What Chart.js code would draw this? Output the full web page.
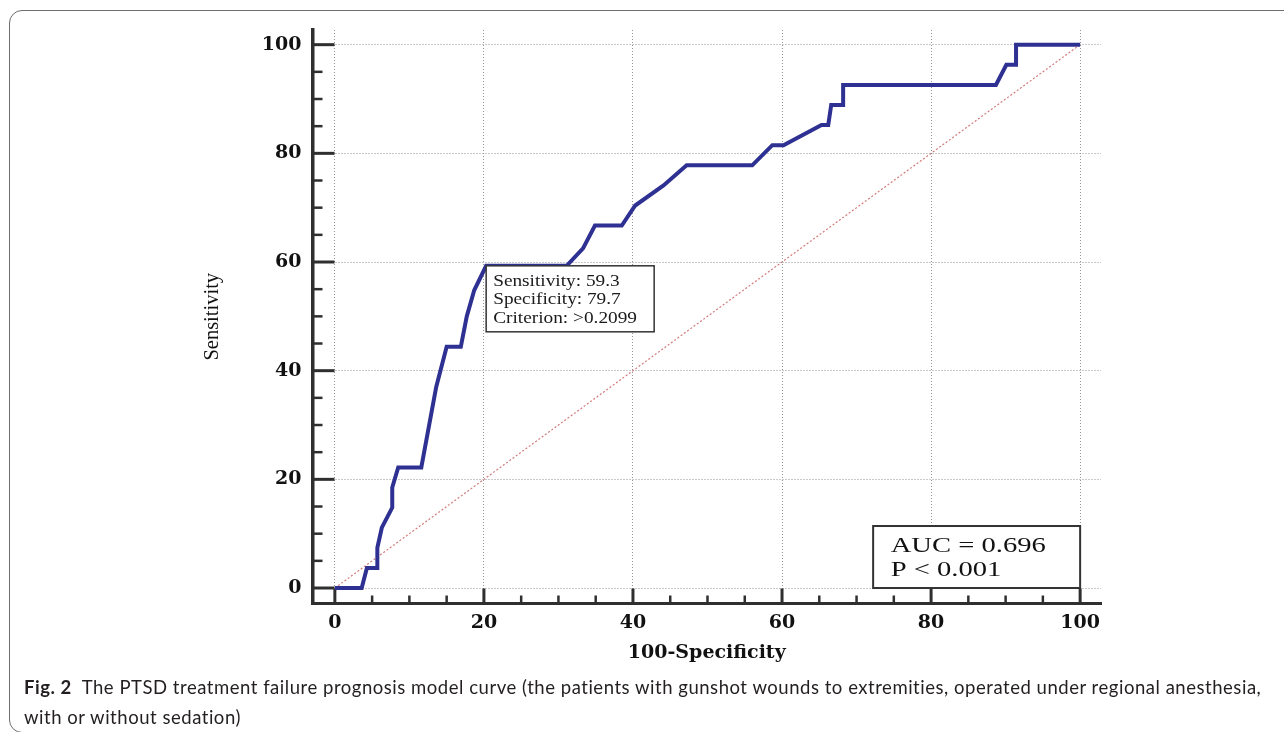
<!DOCTYPE html>
<html>
<head>
<meta charset="utf-8">
<script src="https://cdn.jsdelivr.net/npm/chart.js@4.4.1/dist/chart.umd.min.js"></script>
<style>
html,body{margin:0;padding:0;background:#fff;width:1284px;height:732px;overflow:hidden;}
#frame{position:absolute;left:9px;top:10px;width:1320px;height:723px;border:1.5px solid #6e6e6e;border-radius:13px;box-sizing:border-box;}
#chart{position:absolute;left:0;top:0;}
#cap{position:absolute;left:24px;top:672px;font-family:Lato,"Open Sans",sans-serif;font-size:18.5px;line-height:30px;color:#231f20;white-space:nowrap;}
#cap b{font-weight:700;}
</style>
</head>
<body>
<div id="frame"></div>
<canvas id="chart" width="1284" height="732"></canvas>
<div id="cap"><span id="l1"><b>Fig. 2</b>&nbsp;&nbsp;The PTSD treatment failure prognosis model curve (the patients with gunshot wounds to extremities, operated under regional anesthesia,</span><br><span id="l2">with or without sedation)</span></div>
<script>
// ---- data ----
const fprX  = [0, 3.6, 4.3, 5.7, 5.7, 6.3, 7.7, 7.7, 8.5, 11.6, 13.6, 15.0, 16.9, 17.7, 18.7, 20.3, 31.1, 33.3, 34.9, 38.5, 40.3, 44.1, 47.2, 56.0, 58.7, 60.2, 65.3, 66.2, 66.6, 68.2, 68.2, 88.7, 90.1, 91.4, 91.4, 100];
const sensY = [0, 0, 3.7, 3.7, 7.4, 11.1, 14.8, 18.5, 22.2, 22.2, 37.0, 44.4, 44.4, 50.0, 54.8, 59.3, 59.3, 62.5, 66.7, 66.7, 70.4, 74.1, 77.8, 77.8, 81.5, 81.5, 85.2, 85.2, 88.9, 88.9, 92.6, 92.6, 96.3, 96.3, 100, 100];
const refX = [0, 100];
const refY = [0, 100];
const xTickValues = [0, 20, 40, 60, 80, 100];
const yTickValues = [0, 20, 40, 60, 80, 100];
const cutoffX = 20.3;
const cutoffY = 59.3;
const cutoffLines = ['Sensitivity: 59.3', 'Specificity: 79.7', 'Criterion: >0.2099'];
const aucLines = ['AUC = 0.696', 'P < 0.001'];
const xTitle = '100-Specificity';
const yTitle = 'Sensitivity';

const curvePts = fprX.map((x, i) => ({x: x, y: sensY[i]}));
const refPts = refX.map((x, i) => ({x: x, y: refY[i]}));

const tickFont = {family: 'DejaVu Serif', size: 19, weight: 'bold'};

const axisTicks = {
  id: 'axisTicks',
  beforeDatasetsDraw(chart) {
    const {ctx, scales: {x, y}} = chart;
    ctx.save();
    ctx.strokeStyle = '#2f2f2f';
    for (let v = 0; v <= 100; v += 5) {
      const major = v % 20 === 0;
      ctx.lineWidth = major ? 3 : 2.5;
      const px = x.getPixelForValue(v);
      ctx.beginPath();
      ctx.moveTo(px, x.top);
      ctx.lineTo(px, x.top - (major ? 15 : 8));
      ctx.stroke();
      const py = y.getPixelForValue(v);
      ctx.beginPath();
      ctx.moveTo(y.right, py);
      ctx.lineTo(y.right + (major ? 22 : 10), py);
      ctx.stroke();
    }
    ctx.restore();
  }
};

const boxes = {
  id: 'boxes',
  afterDatasetsDraw(chart) {
    const {ctx, scales: {x, y}} = chart;
    ctx.save();
    // cut-off box
    const bx = x.getPixelForValue(cutoffX), by = y.getPixelForValue(cutoffY);
    const bw = 168, bh = 66;
    ctx.fillStyle = '#fff';
    ctx.fillRect(bx, by, bw, bh);
    ctx.strokeStyle = '#333';
    ctx.lineWidth = 1.5;
    ctx.strokeRect(bx, by, bw, bh);
    ctx.fillStyle = '#1a1a1a';
    ctx.font = '16.5px "Liberation Serif"';
    ctx.textBaseline = 'middle';
    cutoffLines.forEach((t, i) => {
      ctx.save();
      ctx.translate(bx + 7, by + 15.5 + i * 18.7);
      ctx.scale(1.17, 1);
      ctx.fillText(t, 0, 0);
      ctx.restore();
    });
    // AUC box
    const ar = x.getPixelForValue(100), ab = y.getPixelForValue(0);
    const aw = 207, ah = 62;
    ctx.fillStyle = '#fff';
    ctx.fillRect(ar - aw, ab - ah, aw, ah);
    ctx.strokeStyle = '#333';
    ctx.lineWidth = 2;
    ctx.strokeRect(ar - aw, ab - ah, aw, ah);
    ctx.fillStyle = '#111';
    ctx.font = '21.5px "Liberation Serif"';
    ctx.textBaseline = 'alphabetic';
    aucLines.forEach((t, i) => {
      ctx.save();
      ctx.translate(ar - aw + 17.5, ab - ah + 25.7 + i * 24);
      ctx.scale(1.33, 1);
      ctx.fillText(t, 0, 0);
      ctx.restore();
    });
    ctx.restore();
  }
};

new Chart(document.getElementById('chart'), {
  type: 'scatter',
  data: {
    datasets: [
      {data: curvePts, showLine: true, borderColor: '#2e3192', borderWidth: 4, pointRadius: 0, tension: 0, borderJoinStyle: 'miter', fill: false, order: 1},
      {data: refPts, showLine: true, borderColor: '#d27a7a', borderWidth: 1.2, borderDash: [2, 2], pointRadius: 0, tension: 0, fill: false, order: 2}
    ]
  },
  options: {
    responsive: false,
    animation: false,
    events: [],
    layout: {padding: {left: 0, top: 30, right: 183, bottom: 0}},
    plugins: {legend: {display: false}, tooltip: {enabled: false}},
    scales: {
      x: {
        type: 'linear', position: 'bottom', min: -3, max: 102.8,
        afterBuildTicks: s => { s.ticks = xTickValues.map(v => ({value: v})); },
        afterFit: s => { s.height = 128.5; },
        grid: {color: '#959595', lineWidth: 1, drawTicks: false},
        border: {display: true, color: '#2f2f2f', width: 3, dash: [1, 2]},
        ticks: {padding: 8, font: tickFont, color: '#111', maxRotation: 0, callback: v => String(v)},
        title: {display: true, text: xTitle, color: '#111', font: {family: 'DejaVu Serif', size: 19, weight: 'bold'}, padding: {top: 0, bottom: 67.6}}
      },
      y: {
        type: 'linear', position: 'left', min: -2.85, max: 102.7,
        afterBuildTicks: s => { s.ticks = yTickValues.map(v => ({value: v})); },
        afterFit: s => { s.width = 312.5; },
        grid: {color: '#959595', lineWidth: 1, drawTicks: false},
        border: {display: true, color: '#2f2f2f', width: 3.5, dash: [1, 2]},
        ticks: {padding: 11, font: tickFont, color: '#111', callback: v => String(v)},
        title: {display: true, text: yTitle, color: '#111', font: {family: 'Liberation Serif', size: 20.5, weight: 'normal'}, padding: {top: 200, bottom: 0}}
      }
    }
  },
  plugins: [axisTicks, boxes]
});

// fit caption first line width to the reference
(function () {
  const l1 = document.getElementById('l1');
  const cap = document.getElementById('cap');
  const target = 1262 - 24;
  const w = l1.getBoundingClientRect().width;
  const n = l1.textContent.length;
  cap.style.letterSpacing = ((target - w) / n).toFixed(3) + 'px';
})();
</script>
</body>
</html>
